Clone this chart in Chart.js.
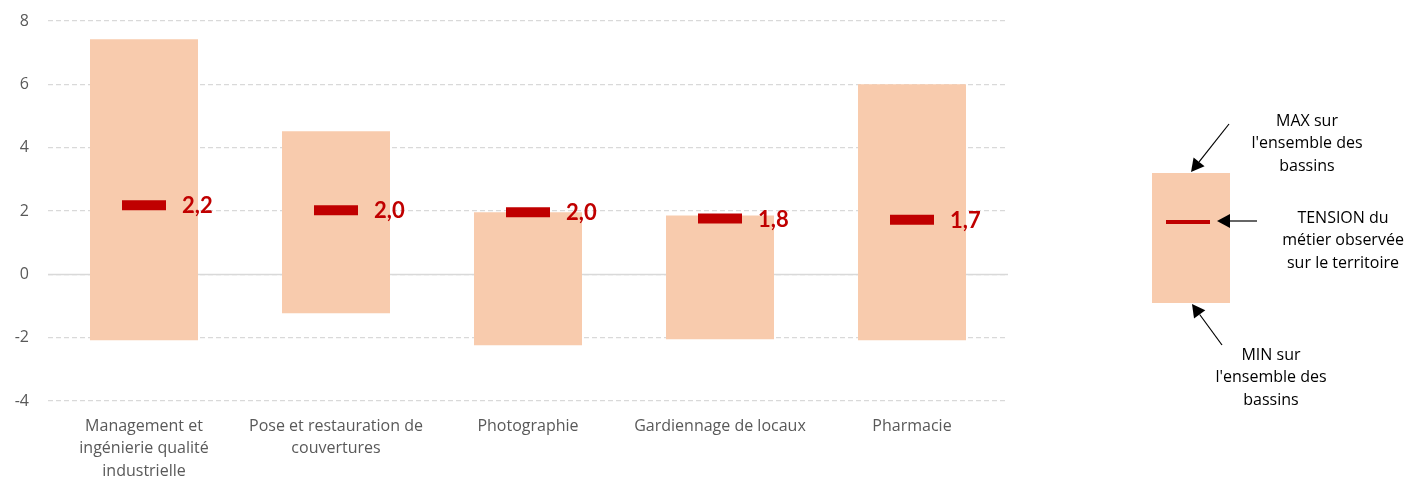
<!DOCTYPE html>
<html>
<head>
<meta charset="utf-8">
<script src="https://cdn.jsdelivr.net/npm/chart.js@4"></script>
<style>
  html, body { margin: 0; padding: 0; background: #fff; }
  #wrap { width: 1408px; height: 478px; position: relative; }
</style>
</head>
<body>
<div id="wrap"><canvas id="tensionChart"></canvas></div>
<script>
// --- données ---
const metiers = [
  ['Management et', 'ingénierie qualité', 'industrielle'],
  ['Pose et restauration de', 'couvertures'],
  'Photographie',
  'Gardiennage de locaux',
  'Pharmacie'
];
const minBassins = [-2.08, -1.23, -2.24, -2.05, -2.08];
const maxBassins = [7.42, 4.52, 1.96, 1.86, 6.0];
const tensionTerritoire = [2.18, 2.02, 1.96, 1.76, 1.72];
const yTicks = [-4, -2, 0, 2, 4, 6, 8];

const PEACH = '#F8CBAD';
const RED = '#C00000';
const GREY_TXT = '#595959';
const FONT = '"Open Sans", Lato, sans-serif';

// ligne du zéro en trait plein (sous les barres)
const zeroLine = {
  id: 'zeroLine',
  beforeDatasetsDraw(chart) {
    const { ctx, chartArea, scales } = chart;
    const y = Math.round(scales.y.getPixelForValue(0)) + 0.5;
    ctx.save();
    ctx.strokeStyle = '#D9D9D9';
    ctx.lineWidth = 1.3;
    ctx.beginPath();
    ctx.moveTo(chartArea.left, y);
    ctx.lineTo(chartArea.right, y);
    ctx.stroke();
    ctx.restore();
  }
};

// étiquettes "2,2" à droite des marqueurs
const valeurs = {
  id: 'valeurs',
  afterDatasetsDraw(chart) {
    const { ctx } = chart;
    const meta = chart.getDatasetMeta(1);
    ctx.save();
    ctx.fillStyle = RED;
    ctx.font = 'bold 22px Lato, sans-serif';
    ctx.textBaseline = 'middle';
    ctx.textAlign = 'left';
    meta.data.forEach((pt, i) => {
      const txt = tensionTerritoire[i].toFixed(1).replace('.', ',');
      ctx.fillText(txt, pt.x + 38, pt.y + 1);
    });
    ctx.restore();
  }
};

function fleche(ctx, x1, y1, x2, y2) {
  const ang = Math.atan2(y2 - y1, x2 - x1);
  const L = 13, W = 7;
  const bx = x2 - Math.cos(ang) * L, by = y2 - Math.sin(ang) * L;
  ctx.beginPath();
  ctx.moveTo(x1, y1);
  ctx.lineTo(bx, by);
  ctx.stroke();
  ctx.beginPath();
  ctx.moveTo(x2, y2);
  ctx.lineTo(bx + Math.sin(ang) * W, by - Math.cos(ang) * W);
  ctx.lineTo(bx - Math.sin(ang) * W, by + Math.cos(ang) * W);
  ctx.closePath();
  ctx.fill();
}

// légende explicative à droite
const legende = {
  id: 'legende',
  afterDraw(chart) {
    const { ctx } = chart;
    ctx.save();
    ctx.fillStyle = PEACH;
    ctx.fillRect(1152, 173, 78, 130);
    ctx.fillStyle = RED;
    ctx.fillRect(1166, 220, 44, 4);

    ctx.strokeStyle = '#000';
    ctx.fillStyle = '#000';
    ctx.lineWidth = 1.2;
    fleche(ctx, 1229, 124, 1191, 172);
    fleche(ctx, 1257, 221, 1217, 221);
    fleche(ctx, 1222, 345, 1192, 304);

    ctx.font = '16px ' + FONT;
    ctx.textAlign = 'center';
    ctx.textBaseline = 'middle';
    const blocs = [
      { l: ['MAX sur', "l'ensemble des", 'bassins'], x: 1307, y: 121 },
      { l: ['TENSION du', 'métier observée', 'sur le territoire'], x: 1343, y: 218 },
      { l: ['MIN sur', "l'ensemble des", 'bassins'], x: 1271, y: 355 }
    ];
    blocs.forEach(b => b.l.forEach((t, k) => ctx.fillText(t, b.x, b.y + k * 22.5)));
    ctx.restore();
  }
};

new Chart(document.getElementById('tensionChart'), {
  data: {
    labels: metiers,
    datasets: [
      {
        type: 'bar',
        label: 'Min / Max',
        data: minBassins.map((v, i) => [v, maxBassins[i]]),
        backgroundColor: PEACH,
        borderWidth: 0,
        barPercentage: 0.5625,
        categoryPercentage: 1,
        order: 2
      },
      {
        type: 'line',
        label: 'Tension',
        data: tensionTerritoire,
        showLine: false,
        pointStyle: 'line',
        pointRadius: 22,
        pointHoverRadius: 22,
        pointBorderWidth: 10,
        pointBorderColor: RED,
        pointBackgroundColor: RED,
        order: 1
      }
    ]
  },
  options: {
    responsive: true,
    maintainAspectRatio: false,
    animation: false,
    layout: { autoPadding: false, padding: { top: 21, right: 400, left: 0, bottom: 0 } },
    plugins: {
      legend: { display: false },
      tooltip: { enabled: false }
    },
    scales: {
      x: {
        grid: { display: false },
        border: { display: false },
        ticks: {
          color: GREY_TXT,
          font: { family: FONT, size: 16, lineHeight: 1.4 },
          maxRotation: 0,
          autoSkip: false,
          padding: 6
        },
        afterFit(s) { s.height = 77; s.paddingTop = 0; s.paddingBottom = 0; }
      },
      y: {
        min: -4,
        max: 8,
        afterBuildTicks(s) { s.ticks = yTicks.map(v => ({ value: v })); },
        grid: { color: '#D9D9D9', lineWidth: 1.3, drawTicks: false },
        border: { display: false, dash: [5, 3] },
        ticks: {
          color: GREY_TXT,
          font: { family: FONT, size: 16 },
          padding: 19
        },
        afterFit(s) { s.width = 48; s.paddingTop = 0; s.paddingBottom = 0; }
      }
    }
  },
  plugins: [zeroLine, valeurs, legende]
});
</script>
</body>
</html>
